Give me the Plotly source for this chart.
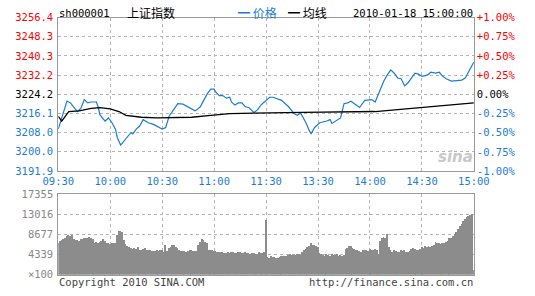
import plotly.graph_objects as go

# ---------------- data ----------------
prev_close = 3224.15

price_minute = [0, 5, 7, 11, 13, 15, 17, 19, 22, 23, 24, 27, 29, 31, 33, 34, 36, 39, 42, 43, 45, 47, 49, 52, 55,
                60, 62, 64, 67, 69, 72, 74, 77, 79, 80, 82, 84, 86, 88, 90, 91, 93, 95, 97, 99, 100, 102, 104, 106,
                108, 110, 113, 115, 117, 119, 122, 124, 127, 129, 130, 133, 136, 138, 140, 141, 143, 145, 146, 148,
                151, 155, 157, 158, 160, 163, 165, 167, 169, 171, 174, 177, 181, 183, 185, 188, 190, 192, 194, 195,
                196, 198, 200, 202, 204, 206, 208, 210, 212, 214, 215, 218, 220, 222, 224, 227, 230, 233, 235, 237,
                239, 240]
price_value = [3209.5, 3221.3, 3220.5, 3216.9, 3218.2, 3221.9, 3220.5, 3220.9, 3220.9, 3218.9, 3215.6, 3212.9,
               3214.2, 3212.2, 3209.5, 3206.1, 3202.8, 3205.5, 3208.1, 3207.5, 3209.5, 3210.8, 3213.5, 3212.2,
               3211.5, 3209.5, 3210.2, 3214.9, 3218.2, 3220.2, 3220.0, 3219.2, 3218.2, 3217.2, 3217.6, 3218.9,
               3221.6, 3224.3, 3226.3, 3226.3, 3225.0, 3223.6, 3223.6, 3222.5, 3222.9, 3220.9, 3219.6, 3220.5,
               3220.5, 3218.9, 3218.6, 3216.5, 3217.6, 3219.6, 3220.9, 3222.9, 3222.9, 3222.3, 3221.6, 3220.9,
               3218.9, 3216.2, 3215.3, 3216.2, 3214.9, 3212.2, 3208.8, 3207.5, 3210.2, 3212.2, 3212.9, 3213.5,
               3211.9, 3212.9, 3214.2, 3220.2, 3220.5, 3221.2, 3220.2, 3218.6, 3221.6, 3221.9, 3220.9, 3224.3,
               3229.7, 3232.3, 3234.4, 3233.0, 3231.7, 3231.0, 3230.7, 3227.7, 3229.0, 3231.0, 3233.0, 3232.6,
               3231.7, 3232.0, 3232.6, 3233.4, 3233.0, 3233.4, 3231.7, 3230.7, 3229.7, 3229.9, 3230.1, 3231.0,
               3233.7, 3236.4, 3237.7]

avg_minute = [0, 2, 6, 12, 19, 24, 30, 35, 39, 48, 57, 66, 77, 88, 99, 113, 120, 141, 183, 210, 240]
avg_value = [3214.9, 3212.9, 3216.9, 3217.2, 3218.2, 3218.5, 3218.0, 3216.9, 3215.3, 3214.5, 3214.2, 3214.2,
             3214.5, 3215.3, 3216.0, 3216.2, 3216.2, 3216.5, 3216.9, 3218.5, 3220.5]

volume = [
    6900, 7200, 7400, 7600, 7900, 8400, 8600, 8400, 8600, 7600,
    7500, 7400, 7300, 7600, 7700, 7800, 7900, 7900, 8000, 7900,
    7600, 6900, 7000, 6900, 7100, 7200, 7600, 7200, 6900, 6700,
    6600, 6700, 6800, 6700, 8600, 9300, 9400, 9200, 7500, 6600,
    6100, 5900, 5700, 5500, 5800, 5600, 5900, 5400, 5300, 5600,
    5700, 5400, 5200, 5300, 5100, 5000, 5100, 5200, 5000, 5400,
    5300, 4900, 6300, 5100, 5700, 6000, 6300, 6400, 5900, 5800,
    5200, 5000, 5100, 5000, 4900, 5000, 5200, 5200, 5100, 5100,
    5100, 6300, 7000, 7700, 7400, 7100, 6800, 5300, 5400, 5200,
    5000, 5100, 4800, 4900, 4800, 4900, 4700, 4600, 4800, 4700,
    4900, 4800, 4700, 4600, 4800, 4900, 4700, 4600, 4800, 4700,
    4600, 4500, 4700, 4600, 4500, 4400, 4800, 4700, 4600, 4900,
    11800,
    3800, 3600, 3900, 3700, 3800, 3600, 3500, 3700, 3900, 4000,
    3900, 4100, 4300, 4400, 4300, 4500, 4300, 4400, 4500, 4300,
    4800, 5200, 5600, 6000, 6200, 6700, 6300, 6300, 6100, 5900,
    4600, 4400, 4300, 4100, 4400, 4200, 4000, 4400, 4200, 4300,
    4400, 4100, 4200, 4100, 4300, 5500, 5800, 6100, 6100, 5700,
    5500, 5200, 5400, 5000, 4900, 5400, 5200, 5400, 5000, 5600,
    5200, 5400, 5600, 5200, 4500, 7300, 7900, 8100, 7800, 8700,
    6000, 5300, 4900, 5400, 5000, 4800, 4900, 5200, 5000, 5300,
    4900, 4900, 5000, 5500, 5700, 5500, 5400, 5300, 5600, 5900,
    5800, 6100, 6000, 6200, 5900, 6100, 6300, 7100, 6800, 6800,
    6500, 6900, 6700, 7000, 7300, 7800, 7900, 8300, 8700, 9200,
    9800, 10400, 11000, 11500, 12000, 12400, 12700, 12900, 13100, 900,
]
volume_minute = list(range(len(volume)))

time_ticks = [0, 30, 60, 90, 120, 150, 180, 210, 240]
time_labels = ["09:30", "10:00", "10:30", "11:00", "11:30", "13:30", "14:00", "14:30", "15:00"]

price_ticks = [3256.4, 3248.3, 3240.3, 3232.2, 3224.2, 3216.1, 3208.0, 3200.0, 3191.9]
pct_ticks = [1.00, 0.75, 0.50, 0.25, 0.00, -0.25, -0.50, -0.75, -1.00]
vol_ticks = [17355, 13016, 8677, 4339, 0]
vol_labels = ["17355", "13016", "8677", "4339", "×100"]

# ---------------- style ----------------
W, H = 535, 296
RED = "#ff0000"
BLUE = "#1c7cd5"
BLACK = "#000000"
GRID = "#b4b4b4"
FRAME = "#999999"
MONO = "DejaVu Sans Mono"
CJK = "Noto Sans CJK SC"

def px_x(p):
    return p / W

def px_y(p):
    return 1 - p / H

def colour_for(v, mid):
    if v > mid + 1e-9:
        return RED
    if v < mid - 1e-9:
        return BLUE
    return BLACK

price_text = [f"<span style='color:{colour_for(v, 3224.2)}'>{v:.1f}</span>" for v in price_ticks]
pct_text = []
for v in pct_ticks:
    s = f"{'+' if v > 0 else ''}{v:.2f}%"
    pct_text.append(f"<span style='color:{colour_for(v, 0)}'>{s}</span>")

fig = go.Figure()

fig.add_trace(go.Scatter(x=price_minute, y=price_value, mode="lines",
                         line=dict(color=BLUE, width=1.2), xaxis="x", yaxis="y",
                         showlegend=False, hoverinfo="skip"))
fig.add_trace(go.Scatter(x=avg_minute, y=avg_value, mode="lines",
                         line=dict(color=BLACK, width=1.3), xaxis="x", yaxis="y",
                         showlegend=False, hoverinfo="skip"))
# percent axis helper (invisible)
fig.add_trace(go.Scatter(x=[0, 240], y=[-1, 1], mode="markers", marker=dict(opacity=0),
                         xaxis="x", yaxis="y3", showlegend=False, hoverinfo="skip"))
fig.add_trace(go.Bar(x=volume_minute, y=volume, width=0.5, marker=dict(color="#8c8c8c", line=dict(width=0)),
                     xaxis="x2", yaxis="y2", showlegend=False, hoverinfo="skip"))

xdom = [px_x(45), px_x(487)]
common_x = dict(domain=xdom, range=[0, 240], tickmode="array", tickvals=time_ticks,
                showgrid=True, gridcolor=GRID, griddash="dot", gridwidth=1,
                zeroline=False, showline=True, linecolor=FRAME, linewidth=1, mirror=True, ticks="")

fig.update_layout(
    width=W, height=H,
    margin=dict(l=0, r=0, t=0, b=0),
    paper_bgcolor="white", plot_bgcolor="white",
    bargap=0,
    xaxis=dict(**common_x, anchor="y", ticktext=time_labels,
               tickfont=dict(family=MONO, size=10.5, color=BLUE)),
    yaxis=dict(domain=[px_y(172), px_y(12)], range=[3191.9, 3256.4], tickmode="array",
               tickvals=price_ticks, ticktext=price_text, tickfont=dict(family=MONO, size=10.5),
               showgrid=True, gridcolor=GRID, griddash="dot", zeroline=False,
               showline=True, linecolor=FRAME, mirror=True, ticks="", anchor="x", ticklabelstandoff=2),
    yaxis3=dict(overlaying="y", side="right", anchor="x", range=[-1.0, 1.0], tickmode="array",
                tickvals=pct_ticks, ticktext=pct_text, tickfont=dict(family=MONO, size=10.5),
                showgrid=False, zeroline=False, ticks="", ticklabelstandoff=2),
    xaxis2=dict(**common_x, anchor="y2", ticktext=[""] * len(time_ticks), showticklabels=False),
    yaxis2=dict(domain=[px_y(280), px_y(196)], range=[0, 17355], tickmode="array",
                tickvals=vol_ticks, ticktext=vol_labels,
                tickfont=dict(family=MONO, size=10.5, color="#888888"),
                showgrid=True, gridcolor=GRID, griddash="dot", zeroline=False,
                showline=True, linecolor=FRAME, mirror=True, ticks="", anchor="x2", ticklabelstandoff=2),
)

ann = [
    dict(x=px_x(44), y=px_y(7), text="sh000001", xanchor="left",
         font=dict(family=MONO, size=10.5, color=BLACK)),
    dict(x=px_x(116), y=px_y(7), text="上证指数", xanchor="left",
         font=dict(family=CJK, size=12, color=BLACK)),
    dict(x=px_x(234), y=px_y(7), text=f"<span style='color:{BLUE}'><b>━</b> 价格</span>", xanchor="left",
         font=dict(family=CJK, size=12, color=BLUE)),
    dict(x=px_x(287), y=px_y(7), text="<b>━</b> 均线", xanchor="left",
         font=dict(family=CJK, size=12, color=BLACK)),
    dict(x=px_x(488), y=px_y(7), text="2010-01-18 15:00:00", xanchor="right",
         font=dict(family=MONO, size=10.5, color=BLACK)),
    dict(x=px_x(44), y=px_y(288), text="Copyright 2010 SINA.COM", xanchor="left",
         font=dict(family=MONO, size=10.5, color="#444444")),
    dict(x=px_x(488), y=px_y(288), text="http://finance.sina.com.cn", xanchor="right",
         font=dict(family=MONO, size=10.5, color="#444444")),
    dict(x=px_x(467), y=px_y(157), text="<b><i>sina</i></b>", xanchor="center",
         font=dict(family="DejaVu Sans", size=15, color="#c8c8c8")),
]
for a in ann:
    a.update(xref="paper", yref="paper", showarrow=False, yanchor="middle")
fig.update_layout(annotations=ann)

fig.write_html("out.html")
